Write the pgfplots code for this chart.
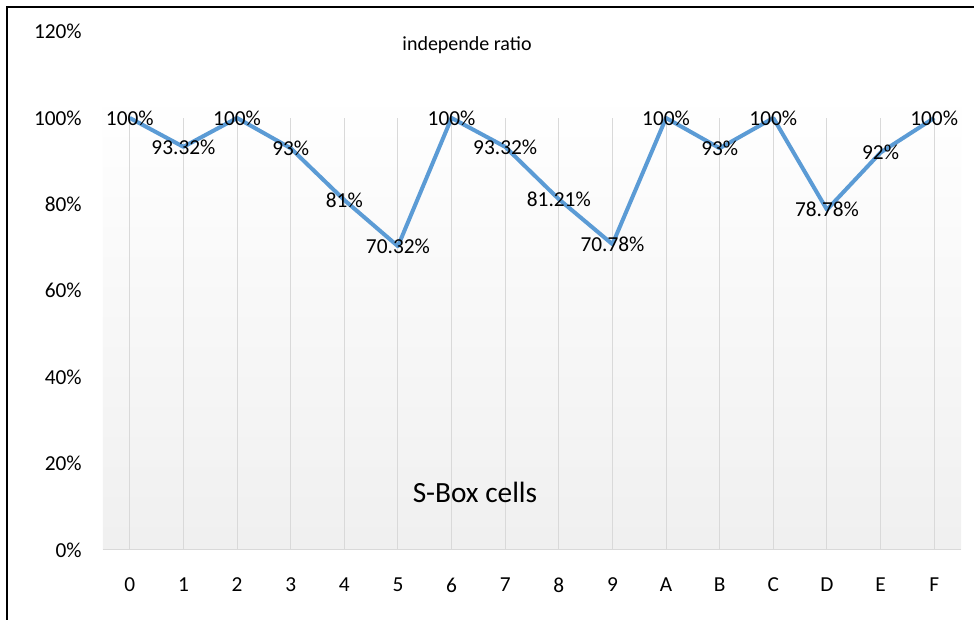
\documentclass[border=0pt]{standalone}
\usepackage{fontspec}
\setmainfont{Carlito}
\usepackage{pgfplots}
\pgfplotsset{compat=1.18}
\definecolor{linec}{HTML}{5B9BD5}
\definecolor{gridc}{HTML}{D9D9D9}
\begin{document}
\begin{tikzpicture}
\useasboundingbox (0,0) rectangle (730.5pt,465pt);
\fill[white] (0,0) rectangle (730.5pt,465pt);
\begin{axis}[
  at={(77.25pt,52.5pt)}, anchor=south west,
  scale only axis, width=643.5pt, height=388.8pt,
  xmin=-0.5, xmax=15.5, ymin=0, ymax=1.2,
  axis line style={draw=none},
  xtick={0,1,2,3,4,5,6,7,8,9,10,11,12,13,14,15},
  xticklabels={0,1,2,3,4,5,6,7,8,9,A,B,C,D,E,F},
  ytick={0,0.2,0.4,0.6,0.8,1.0,1.2},
  yticklabels={0\%,20\%,40\%,60\%,80\%,100\%,120\%},
  major tick length=0pt,
  clip=false,
  ticklabel style={font=\fontsize{16}{19}\selectfont, text=black},
  xticklabel style={anchor=center, yshift=-26.25pt},
  yticklabel style={anchor=east, inner sep=0pt, xshift=-15.75pt},
]
\fill[top color=white, bottom color=black!6] (axis cs:-0.5,0) rectangle (axis cs:15.5,1.06);
\pgfplotsinvokeforeach{0,...,15}{\draw[gridc, line width=0.75pt] (axis cs:#1,0) -- (axis cs:#1,1.0);}
\draw[gridc, line width=0.75pt] (axis cs:-0.5,0) -- (axis cs:15.5,0);
\addplot[linec, line width=3pt, line join=round, mark=none,
  nodes near coords, point meta=explicit symbolic,
  nodes near coords style={anchor=center, text=black, font=\fontsize{16}{19}\selectfont, inner sep=0pt}]
coordinates {
(0,1.00) [100\%]
(1,0.9332) [93.32\%]
(2,1.00) [100\%]
(3,0.93) [93\%]
(4,0.81) [81\%]
(5,0.7032) [70.32\%]
(6,1.00) [100\%]
(7,0.9332) [93.32\%]
(8,0.8121) [81.21\%]
(9,0.7078) [70.78\%]
(10,1.00) [100\%]
(11,0.93) [93\%]
(12,1.00) [100\%]
(13,0.7878) [78.78\%]
(14,0.92) [92\%]
(15,1.00) [100\%]
};
\end{axis}
\node[font=\fontsize{15}{18}\selectfont, inner sep=0pt] at (350.25pt,431.25pt) {independe ratio};
\node[font=\fontsize{22}{26}\selectfont, inner sep=0pt] at (356.25pt,96pt) {S-Box cells};
\draw[line width=1.5pt] (5.25pt,0) -- (5.25pt,460.1pt) -- (731pt,460.1pt);
\end{tikzpicture}
\end{document}
